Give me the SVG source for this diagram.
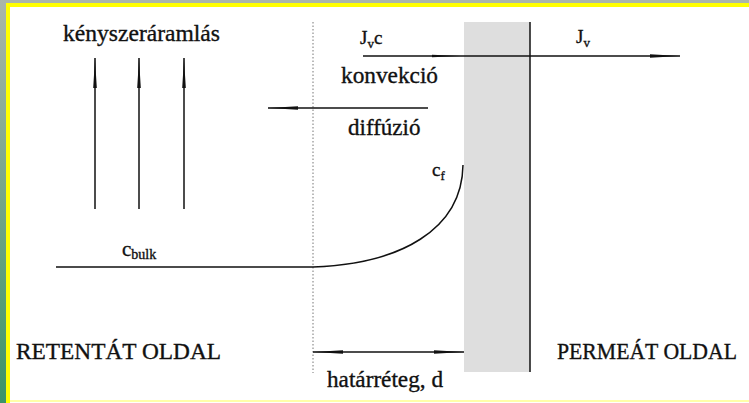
<svg xmlns="http://www.w3.org/2000/svg" width="749" height="403" viewBox="0 0 749 403">
<defs>
<linearGradient id="side" x1="0" y1="0" x2="0" y2="1">
<stop offset="0" stop-color="#aab6aa"/>
<stop offset="1" stop-color="#3c9468"/>
</linearGradient>
<marker id="ah" viewBox="0 0 30 6" refX="30" refY="3" markerWidth="30" markerHeight="6" markerUnits="userSpaceOnUse" orient="auto">
<path d="M0,1.2 L30,3 L0,4.8 Z" fill="#111"/>
</marker>
<marker id="ahs" viewBox="0 0 30 6" refX="0" refY="3" markerWidth="30" markerHeight="6" markerUnits="userSpaceOnUse" orient="auto">
<path d="M30,1.2 L0,3 L30,4.8 Z" fill="#111"/>
</marker>
<style>
text{font-family:'Liberation Serif','Times New Roman',serif;fill:#111;stroke:#111;stroke-width:0.35}
.ln{stroke:#111;stroke-width:1.5;fill:none}
</style>
</defs>
<rect x="0" y="0" width="749" height="403" fill="#fff"/>
<rect x="0" y="0" width="749" height="3" fill="#aab6aa"/>
<rect x="0" y="0" width="6" height="403" fill="url(#side)"/>
<rect x="6" y="3" width="743" height="4" fill="#ffff00"/>
<rect x="6" y="3" width="4" height="400" fill="#ffff00"/>
<rect x="10" y="400" width="739" height="2" fill="#ffffa8"/>

<g id="membrane">
<rect x="464" y="22" width="66" height="350" fill="#dedede"/>
<line x1="530" y1="22" x2="530" y2="372" class="ln"/>
</g>
<g id="boundary">
<line x1="313" y1="22" x2="313" y2="373" stroke="#777" stroke-width="1" stroke-dasharray="1.5,2"/>
</g>

<g id="connectors">
<line x1="95" y1="209" x2="95" y2="58" class="ln" marker-end="url(#ah)"/>
<line x1="139" y1="209" x2="139" y2="58" class="ln" marker-end="url(#ah)"/>
<line x1="184" y1="209" x2="184" y2="58" class="ln" marker-end="url(#ah)"/>
<line x1="363" y1="56" x2="680" y2="56" class="ln" marker-end="url(#ah)"/>
<path d="M432,54.8 L460,56 L432,57.2 Z" fill="#111"/>
<line x1="428" y1="108" x2="268" y2="108" class="ln" marker-end="url(#ah)"/>
<line x1="313" y1="352" x2="464" y2="352" class="ln" marker-start="url(#ahs)" marker-end="url(#ah)"/>
<path d="M56,267 L313,267 C400,264 462,230 463,165" class="ln"/>
</g>

<g id="labels">
<text x="63" y="41" font-size="23" textLength="157" lengthAdjust="spacingAndGlyphs">kényszeráramlás</text>
<text x="360" y="44" font-size="19">J<tspan font-size="13" dy="4">v</tspan><tspan dy="-4">c</tspan></text>
<text x="576" y="43" font-size="19">J<tspan font-size="13" dy="4">v</tspan></text>
<text x="341" y="83" font-size="23" textLength="97" lengthAdjust="spacingAndGlyphs">konvekció</text>
<text x="348" y="135" font-size="23">diffúzió</text>
<text x="432" y="176" font-size="19">c<tspan font-size="13" dy="4">f</tspan></text>
<text x="122" y="256" font-size="21">c<tspan font-size="14" dy="3">bulk</tspan></text>
<text x="16" y="359" font-size="23" textLength="205" lengthAdjust="spacingAndGlyphs">RETENTÁT OLDAL</text>
<text x="557" y="359" font-size="23" textLength="180" lengthAdjust="spacingAndGlyphs">PERMEÁT OLDAL</text>
<text x="327" y="387" font-size="23" textLength="116" lengthAdjust="spacingAndGlyphs">határréteg, d</text>
</g>
</svg>
